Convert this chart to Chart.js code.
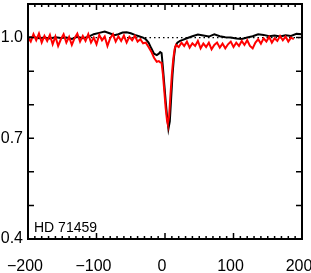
<!DOCTYPE html>
<html>
<head>
<meta charset="utf-8">
<script src="https://cdn.jsdelivr.net/npm/chart.js@4.4.1/dist/chart.umd.min.js"></script>
<style>
  html, body { margin: 0; padding: 0; background: #fff; }
  #wrap { width: 311px; height: 273px; position: relative; }
</style>
</head>
<body>
<div id="wrap"><canvas id="chart"></canvas></div>
<script>
const starName = "HD 71459";
const xTicks = [-200, -100, 0, 100, 200];
const yTicks = [0.4, 0.7, 1.0];

// black profile
const blackVel = [-200, -192, -184, -176, -168, -160, -152, -144, -136, -128, -120, -112, -104, -96, -88, -80, -74, -68, -62, -56, -50, -44, -38, -32, -28, -24, -20, -16, -12, -9, -7, -5, -3, -1, 1, 3, 5, 7, 9, 11, 13, 15, 18, 22, 26, 32, 40, 48, 56, 64, 72, 80, 88, 96, 104, 112, 120, 128, 136, 144, 152, 160, 168, 176, 184, 192, 200];
const blackFlux = [1.000, 1.002, 0.998, 1.000, 0.997, 1.001, 0.999, 1.000, 0.996, 1.002, 0.998, 1.002, 1.010, 1.014, 1.018, 1.012, 1.007, 1.010, 1.015, 1.016, 1.013, 1.008, 1.004, 1.000, 0.995, 0.985, 0.968, 0.952, 0.948, 0.952, 0.957, 0.954, 0.910, 0.860, 0.810, 0.765, 0.728, 0.750, 0.820, 0.890, 0.940, 0.972, 0.985, 0.990, 0.993, 0.998, 1.004, 1.009, 1.006, 1.003, 1.010, 1.004, 1.001, 1.000, 0.997, 0.996, 1.000, 1.004, 1.010, 1.008, 1.004, 1.006, 1.003, 1.007, 1.005, 1.011, 1.010];

// red profile
const redVel = [-200, -196, -192, -188, -184, -180, -176, -172, -168, -164, -160, -156, -152, -148, -144, -140, -136, -132, -128, -124, -120, -116, -112, -108, -104, -100, -96, -92, -88, -84, -80, -76, -72, -68, -64, -60, -56, -52, -48, -44, -40, -36, -32, -28, -24, -20, -16, -12, -9, -7, -5, -3, -1, 1, 3, 4, 6, 8, 10, 12, 14, 16, 20, 24, 28, 32, 36, 40, 44, 48, 52, 56, 60, 64, 68, 72, 76, 80, 84, 88, 92, 96, 100, 104, 108, 112, 116, 120, 124, 128, 132, 136, 140, 144, 148, 152, 156, 160, 164, 168, 172, 176, 180, 184, 188];
const redFlux = [1.000, 0.988, 1.010, 0.992, 1.012, 0.985, 1.005, 0.990, 1.008, 0.980, 1.003, 0.975, 0.995, 1.010, 0.985, 1.002, 0.978, 0.998, 1.012, 0.988, 1.005, 0.990, 1.010, 0.985, 1.000, 0.980, 1.008, 0.992, 1.003, 0.975, 0.998, 1.010, 0.988, 1.004, 0.990, 1.006, 0.985, 1.002, 0.992, 1.005, 0.988, 0.995, 0.983, 0.985, 0.972, 0.958, 0.940, 0.928, 0.930, 0.926, 0.925, 0.890, 0.840, 0.790, 0.752, 0.743, 0.765, 0.830, 0.890, 0.935, 0.965, 0.978, 0.972, 0.985, 0.975, 0.988, 0.970, 0.983, 0.975, 0.990, 0.968, 0.982, 0.972, 0.985, 0.965, 0.978, 0.985, 0.970, 0.982, 0.968, 0.980, 0.988, 0.972, 0.985, 0.975, 0.990, 0.978, 0.992, 0.975, 0.968, 0.985, 0.995, 0.982, 0.998, 0.988, 1.002, 0.985, 0.998, 0.990, 1.005, 0.992, 1.003, 0.988, 1.000, 0.995];

// dotted continuum level
const refVel = [-200, 200];
const refFlux = [1.0, 1.0];

function toPoints(xs, ys) {
  return xs.map((x, i) => ({ x: x, y: ys[i] }));
}

const frameTicks = {
  id: "frameTicks",
  afterDraw(chart) {
    const { ctx, chartArea: a, scales } = chart;
    const xs = scales.x, ys = scales.y;
    ctx.save();
    ctx.strokeStyle = "#000";
    ctx.lineWidth = 1.5;
    ctx.beginPath();
    for (let v = -200; v <= 200; v += 10) {
      const px = xs.getPixelForValue(v);
      const len = v % 100 === 0 ? 6 : 3;
      ctx.moveTo(px, a.bottom); ctx.lineTo(px, a.bottom - len);
      ctx.moveTo(px, a.top); ctx.lineTo(px, a.top + len);
    }
    for (let k = 4; k <= 11; k++) {
      const py = ys.getPixelForValue(k / 10);
      ctx.moveTo(a.left, py); ctx.lineTo(a.left + 6, py);
      ctx.moveTo(a.right, py); ctx.lineTo(a.right - 6, py);
    }
    ctx.stroke();
    ctx.lineWidth = 2;
    ctx.strokeRect(a.left, a.top, a.right - a.left, a.bottom - a.top);
    ctx.fillStyle = "#000";
    ctx.font = "14px 'Liberation Sans', Arial, sans-serif";
    ctx.textBaseline = "alphabetic";
    ctx.fillText(starName, a.left + 6, a.bottom - 7);
    ctx.restore();
  }
};

const tickFont = { family: "'Liberation Sans', Arial, sans-serif", size: 16 };

new Chart(document.getElementById("chart"), {
  type: "line",
  data: {
    datasets: [
      { data: toPoints(redVel, redFlux), borderColor: "#ff0000", borderWidth: 2, order: 0 },
      { data: toPoints(blackVel, blackFlux), borderColor: "#000000", borderWidth: 2, order: 1 },
      { data: toPoints(refVel, refFlux), borderColor: "#000000", borderWidth: 1.2, borderDash: [1.5, 3], order: 2 },
    ],
  },
  options: {
    responsive: true,
    maintainAspectRatio: false,
    devicePixelRatio: 1,
    animation: false,
    events: [],
    elements: { point: { radius: 0 }, line: { tension: 0 } },
    layout: { padding: { top: 4, right: 9, left: 0, bottom: 0 } },
    plugins: { legend: { display: false }, tooltip: { enabled: false } },
    scales: {
      x: {
        type: "linear",
        min: -200,
        max: 200,
        grid: { display: false, drawTicks: false, tickLength: 0 },
        border: { display: false },
        afterBuildTicks: (s) => { s.ticks = xTicks.map((v) => ({ value: v })); },
        afterFit: (s) => { s.height = 34; s.paddingLeft = 0; s.paddingRight = 0; },
        ticks: {
          color: "#000",
          font: tickFont,
          padding: 18,
          labelOffset: -3,
          maxRotation: 0,
          autoSkip: false,
          callback: (v) => String(v).replace("-", "\u2212"),
        },
      },
      y: {
        type: "linear",
        min: 0.4,
        max: 1.1,
        grid: { display: false, drawTicks: false, tickLength: 0 },
        border: { display: false },
        afterBuildTicks: (s) => { s.ticks = yTicks.map((v) => ({ value: v })); },
        afterFit: (s) => { s.width = 28; s.paddingTop = 0; s.paddingBottom = 0; },
        ticks: {
          color: "#000",
          font: tickFont,
          padding: 5,
          autoSkip: false,
          callback: (v) => Number(v).toFixed(1),
        },
      },
    },
  },
  plugins: [frameTicks],
});
</script>
</body>
</html>
